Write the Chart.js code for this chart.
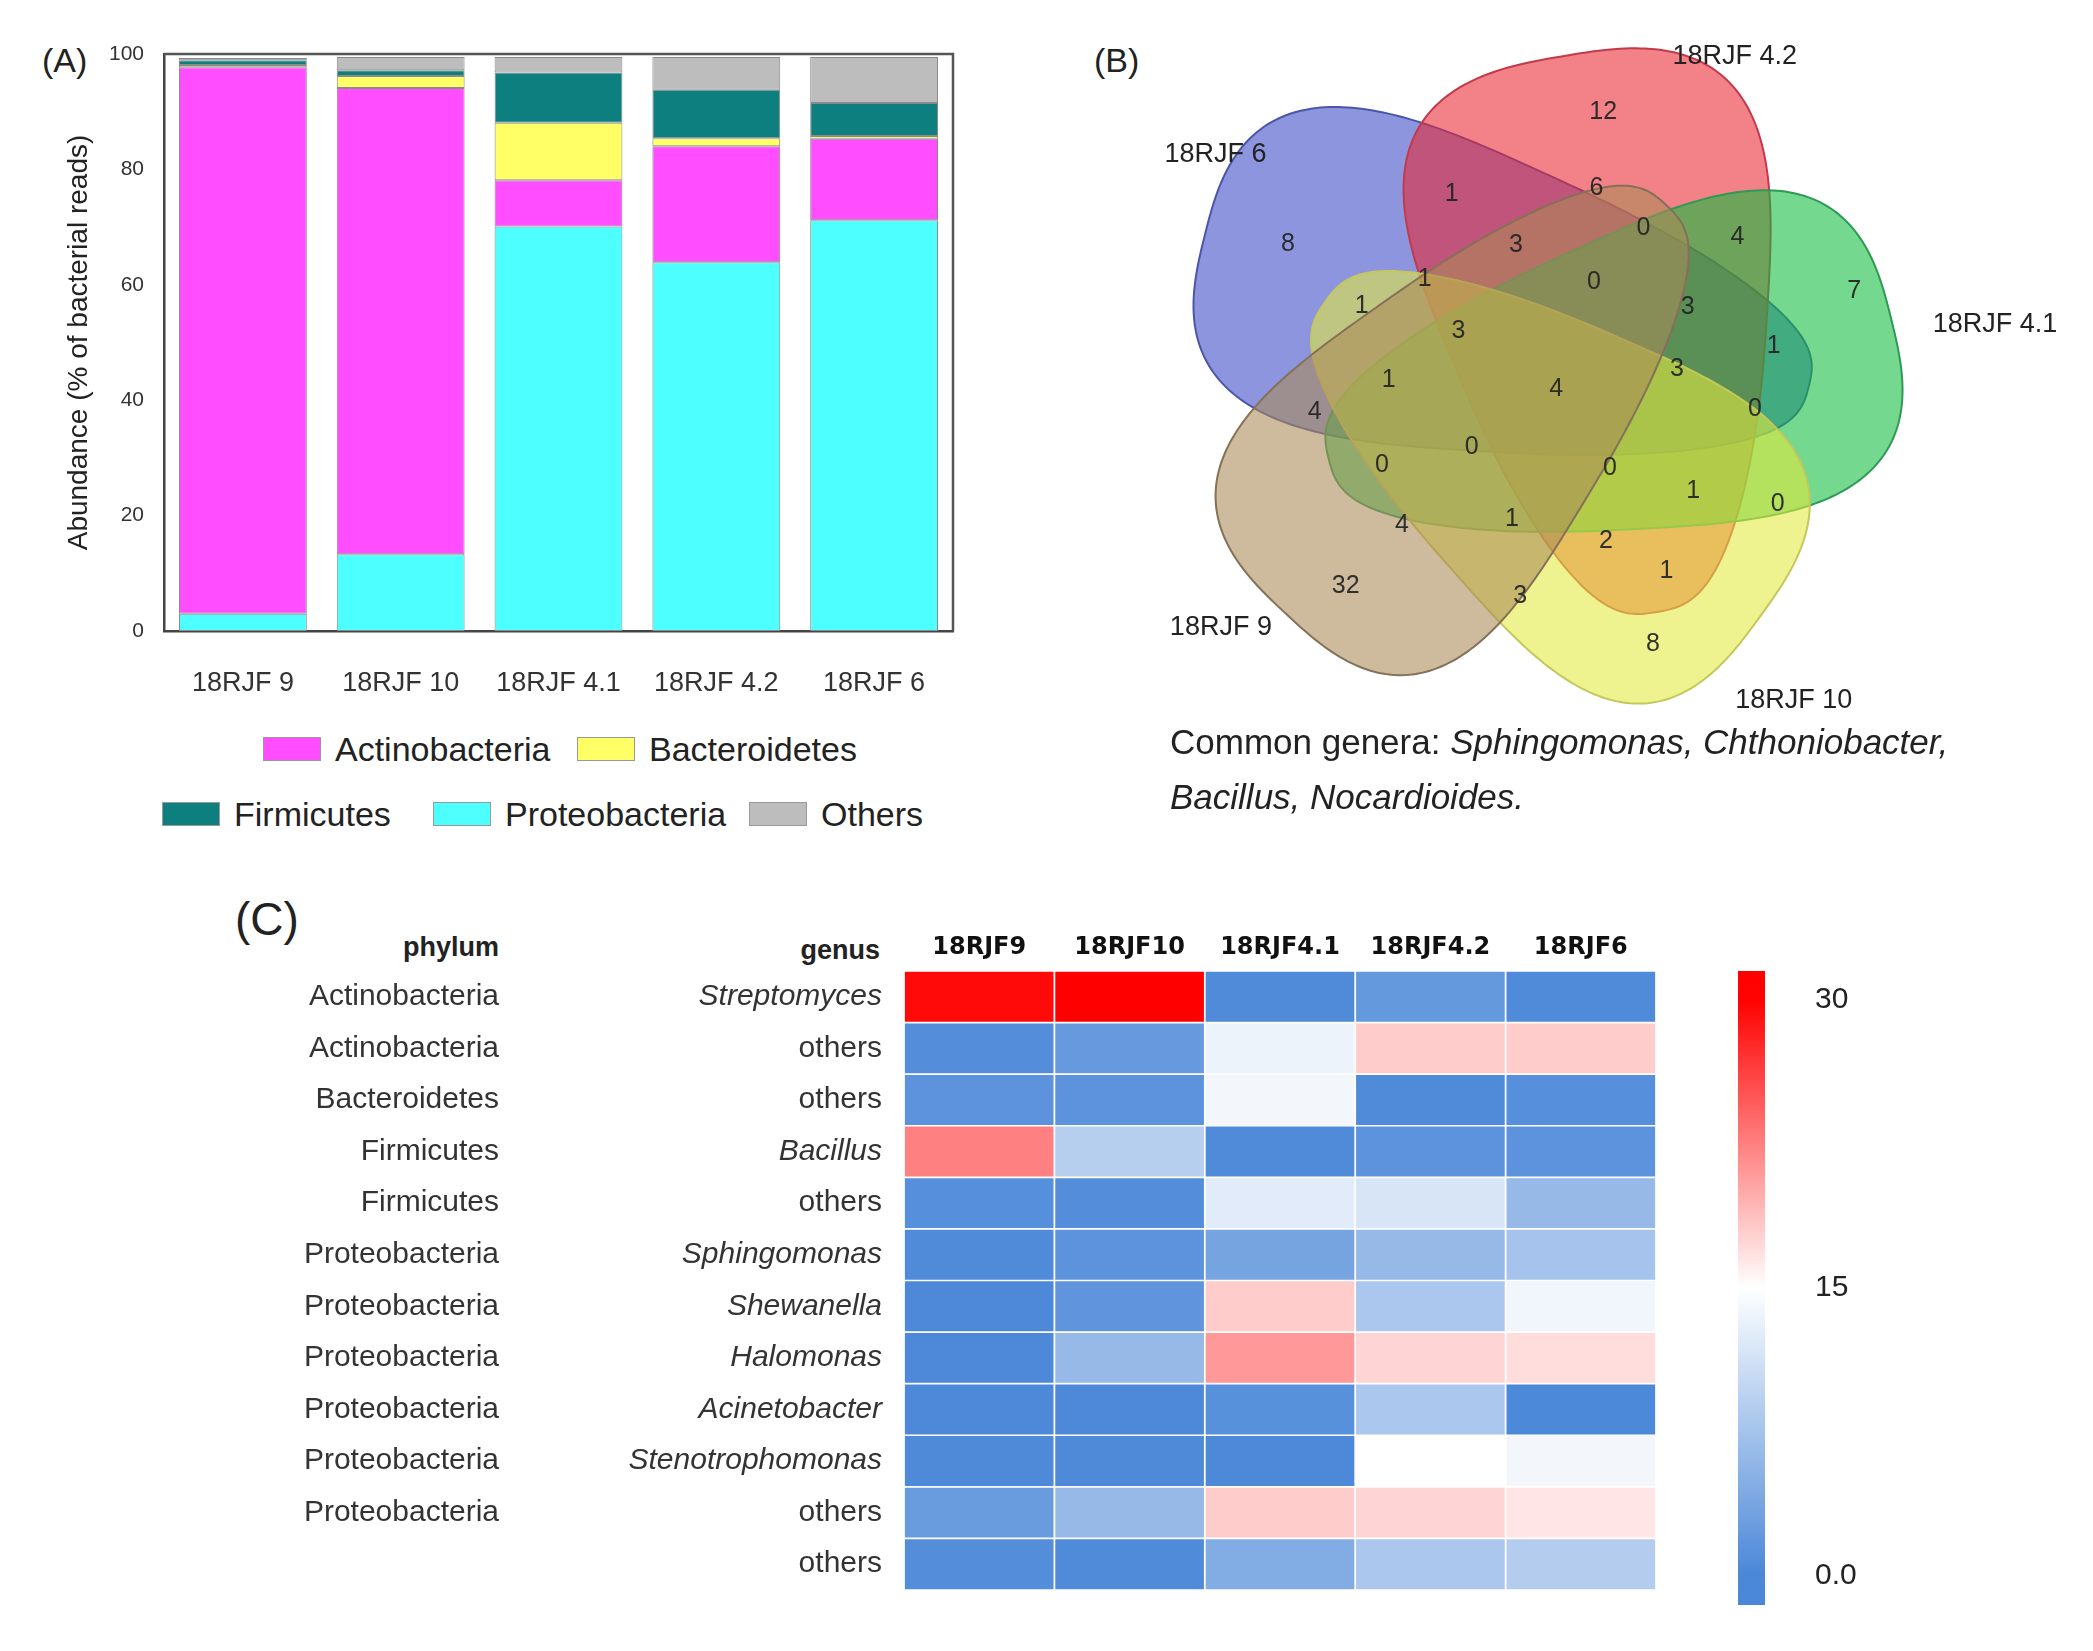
<!DOCTYPE html>
<html>
<head>
<meta charset="utf-8">
<script src="https://cdn.jsdelivr.net/npm/chart.js@4.4.1/dist/chart.umd.min.js"></script>
<style>
  body { margin: 0; background: #fff; font-family: 'Liberation Sans', Arial, sans-serif; color: #222; }
  #pagina { position: relative; width: 2093px; height: 1651px; overflow: hidden; background: #fff; }
  .caja { position: absolute; }
  .etiqueta-panel { position: absolute; font-size: 34px; line-height: 1; color: #222; }
  .item-leyenda { position: absolute; display: flex; align-items: center; font-size: 34px; color: #222; height: 40px; }
  .muestra-color { width: 58px; height: 24px; border: 1px solid #999; box-sizing: border-box; margin-right: 14px; }
  .cabecera { position: absolute; font-weight: bold; font-size: 27px; line-height: 32px; color: #222; text-align: right; }
</style>
</head>
<body>
<div id="pagina">
  <div class="etiqueta-panel" style="left:42px; top:43px;">(A)</div>
  <div class="caja" style="left:0; top:0; width:980px; height:720px;"><canvas id="graficaBarras"></canvas></div>
  <div id="leyendaBarras"></div>

  <div class="etiqueta-panel" style="left:1094px; top:43px;">(B)</div>
  <div class="caja" style="left:1080px; top:20px; width:1013px; height:820px;"><canvas id="graficaVenn"></canvas></div>
  <div class="caja" style="left:1170px; top:714px; font-size:35px; line-height:55px; color:#222;">
    Common genera: <i>Sphingomonas, Chthoniobacter,</i><br><i>Bacillus, Nocardioides.</i>
  </div>

  <div class="etiqueta-panel" style="left:235px; top:896px; font-size:46px;">(C)</div>
  <div class="cabecera" style="right:1594px; top:931px;">phylum</div>
  <div class="cabecera" style="right:1213px; top:934px;">genus</div>
  <div class="caja" style="left:240px; top:880px; width:1450px; height:760px;"><canvas id="graficaCalor"></canvas></div>
  <div class="caja" style="left:1700px; top:903px; width:220px; height:770px;"><canvas id="graficaEscala"></canvas></div>
</div>

<script>
// ---------- Datos (A): abundancia por filo (% de lecturas) ----------
const muestras = ['18RJF 9', '18RJF 10', '18RJF 4.1', '18RJF 4.2', '18RJF 6'];
const proteobacteria = [3.0, 13.3, 70.1, 63.9, 71.2];
const actinobacteria = [94.7, 80.8, 8.0, 20.1, 14.1];
const bacteroidetes = [0.4, 2.1, 10.0, 1.4, 0.5];
const firmicutes = [0.8, 1.0, 8.7, 8.4, 5.7];
const otros = [0.4, 2.3, 2.7, 5.7, 8.0];
const marcasAbundancia = [0, 20, 40, 60, 80, 100];

// ---------- Datos (B): conteos del diagrama de Venn ----------
const conjuntosVenn = ['18RJF 6', '18RJF 4.2', '18RJF 4.1', '18RJF 10', '18RJF 9'];
const conteosVenn = [12, 1, 6, 0, 4, 8, 3, 0, 3, 7, 1, 1, 3, 4, 3, 1, 1, 0, 4, 0, 0, 0, 1, 0, 4, 1, 2, 1, 32, 3, 8];

// ---------- Datos (C): mapa de calor ----------
const muestrasCalor = ['18RJF9', '18RJF10', '18RJF4.1', '18RJF4.2', '18RJF6'];
const generos = ['Streptomyces', 'others', 'others', 'Bacillus', 'others', 'Sphingomonas', 'Shewanella',
  'Halomonas', 'Acinetobacter', 'Stenotrophomonas', 'others', 'others'];
const filos = ['Actinobacteria', 'Actinobacteria', 'Bacteroidetes', 'Firmicutes', 'Firmicutes', 'Proteobacteria',
  'Proteobacteria', 'Proteobacteria', 'Proteobacteria', 'Proteobacteria', 'Proteobacteria', ''];
const calor18RJF9 = [29.5, 0.8, 1.5, 22.5, 1.0, 0.5, 0.3, 0.3, 0.3, 0.4, 2.6, 0.8];
const calor18RJF10 = [30, 2.3, 1.5, 9.0, 0.8, 1.5, 1.8, 6.3, 0.3, 0.4, 6.3, 0.5];
const calor18RJF41 = [0.5, 13.5, 14.0, 0.5, 12.5, 3.6, 18.0, 21.0, 1.2, 0.3, 18.0, 4.6];
const calor18RJF42 = [2.2, 18.0, 0.5, 1.5, 11.7, 6.3, 8.0, 17.5, 8.0, 15.0, 17.5, 8.0];
const calor18RJF6 = [0.5, 18.0, 1.0, 1.5, 6.3, 7.5, 13.8, 17.0, 0.2, 14.0, 16.5, 8.8];
const marcasEscala = [0, 15, 30];

// ---------- Estilos y disposición ----------
const coloresFilo = {
  Actinobacteria: '#ff4dff', Bacteroidetes: '#ffff66', Firmicutes: '#0e7f7f',
  Proteobacteria: '#4dffff', Others: '#bdbdbd'
};

// posiciones de la leyenda (px de página)
const leyendaPos = [
  ['Actinobacteria', 263, 729], ['Bacteroidetes', 577, 729],
  ['Firmicutes', 162, 794], ['Proteobacteria', 433, 794], ['Others', 749, 794]
];

// formas de Venn en unidades del panel: centro, semieje, ángulo, anchos
const formasVenn = [
  { cx: 1123, cy: 232, a: 232, ang: 194, bi: 64, bo: 150 },
  { cx: 1200, cy: 249, a: 210, ang: 260.4, bi: 70, bo: 168 },
  { cx: 1200, cy: 290, a: 216, ang: -13.9, bi: 66, bo: 148 },
  { cx: 1150, cy: 342, a: 200, ang: 36, bi: 64, bo: 152 },
  { cx: 1100, cy: 305, a: 208, ang: 133, bi: 64, bo: 150 }
];
const rellenoVenn = ['rgba(57,72,198,0.58)', 'rgba(233,38,50,0.58)', 'rgba(15,187,60,0.58)',
  'rgba(227,235,62,0.58)', 'rgba(170,137,87,0.58)'];
const bordeVenn = ['#4b56a8', '#c23a4c', '#2f9a55', '#c4c85a', '#857058'];
const etiquetasVennPos = [[906, 115], [1293, 42], [1487, 242], [1337, 522], [910, 468]];
const conteosVennPos = [
  [1195, 84], [1082, 145], [1190, 140], [1225, 170], [1295, 177], [960, 182], [1130, 183], [1188, 210],
  [1258, 229], [1382, 217], [1015, 228], [1062, 208], [1087, 247], [1160, 290], [1250, 275], [1322, 258],
  [1035, 283], [1308, 305], [980, 307], [1097, 333], [1030, 347], [1200, 349], [1262, 366], [1325, 376],
  [1045, 391], [1127, 387], [1197, 403], [1242, 426], [1003, 437], [1133, 444], [1232, 480]
];

// Escala de color azul - blanco - rojo
function colorEscala(v) {
  const azul = [74, 135, 216], blanco = [255, 255, 255], rojo = [255, 0, 0];
  const t = Math.max(0, Math.min(1, v / 30));
  let a, b, f;
  if (t < 0.5) { a = azul; b = blanco; f = t / 0.5; } else { a = blanco; b = rojo; f = (t - 0.5) / 0.5; }
  const c = a.map((x, i) => Math.round(x + (b[i] - x) * f));
  return `rgb(${c[0]},${c[1]},${c[2]})`;
}

// Marco superior y derecho del panel A
const marcoPlugin = {
  id: 'marco',
  afterDatasetsDraw(chart) {
    const { ctx, chartArea } = chart;
    ctx.save();
    ctx.strokeStyle = '#555';
    ctx.lineWidth = 2.5;
    ctx.beginPath();
    ctx.moveTo(chartArea.left, chartArea.top);
    ctx.lineTo(chartArea.right, chartArea.top);
    ctx.lineTo(chartArea.right, chartArea.bottom);
    ctx.stroke();
    ctx.restore();
  }
};

function crearGraficaBarras() {
  const series = [
    ['Proteobacteria', proteobacteria], ['Actinobacteria', actinobacteria], ['Bacteroidetes', bacteroidetes],
    ['Firmicutes', firmicutes], ['Others', otros]
  ];
  const ctx = document.getElementById('graficaBarras').getContext('2d');
  new Chart(ctx, {
    type: 'bar',
    data: {
      labels: muestras,
      datasets: series.map(([nombre, datos]) => ({
        label: nombre,
        data: datos,
        backgroundColor: coloresFilo[nombre],
        borderColor: '#8a8a8a',
        borderWidth: 1,
        borderSkipped: false,
        barPercentage: 0.81,
        categoryPercentage: 1.0
      }))
    },
    options: {
      responsive: true,
      maintainAspectRatio: false,
      animation: false,
      layout: { padding: { left: 58, top: 54, right: 27, bottom: 19 } },
      plugins: { legend: { display: false }, tooltip: { enabled: false } },
      scales: {
        x: {
          stacked: true,
          grid: { display: false },
          border: { color: '#444', width: 2.5 },
          ticks: { color: '#333', font: { size: 27 }, padding: 28 },
          afterFit: s => { s.height = 70; }
        },
        y: {
          stacked: true,
          min: 0,
          max: 100,
          grid: { display: false },
          border: { color: '#444', width: 2.5 },
          afterBuildTicks: s => { s.ticks = marcasAbundancia.map(v => ({ value: v })); },
          ticks: { color: '#333', font: { size: 21 }, padding: 12 },
          title: { display: true, text: 'Abundance (% of bacterial reads)', color: '#222', font: { size: 28 }, padding: 4 },
          afterFit: s => { s.width = 106; }
        }
      }
    },
    plugins: [marcoPlugin]
  });

  // leyenda en HTML (dos filas como en la figura)
  const cont = document.getElementById('leyendaBarras');
  leyendaPos.forEach(([nombre, x, y]) => {
    const item = document.createElement('div');
    item.className = 'item-leyenda';
    item.style.left = x + 'px';
    item.style.top = y + 'px';
    item.innerHTML = `<span class="muestra-color" style="background:${coloresFilo[nombre]}"></span>${nombre}`;
    cont.appendChild(item);
  });
}

function contornoVenn(f) {
  const pts = [];
  const p = 2 / 2.8;
  const t = f.ang * Math.PI / 180;
  for (let k = 0; k < 300; k++) {
    const phi = k / 300 * 2 * Math.PI;
    const c = Math.cos(phi), s = Math.sin(phi);
    const u = Math.sign(c) * Math.pow(Math.abs(c), p);
    const v = Math.sign(s) * Math.pow(Math.abs(s), p);
    const b = f.bi + (f.bo - f.bi) * (1 + u) / 2;
    const lx = f.a * u, ly = v * b;
    pts.push([f.cx + lx * Math.cos(t) - ly * Math.sin(t), f.cy + lx * Math.sin(t) + ly * Math.cos(t)]);
  }
  return pts;
}

const vennPlugin = {
  id: 'venn',
  beforeDatasetsDraw(chart) {
    const { ctx, scales } = chart;
    ctx.save();
    formasVenn.forEach((f, i) => {
      const pts = contornoVenn(f);
      ctx.beginPath();
      pts.forEach(([x, y], k) => {
        const px = scales.x.getPixelForValue(x), py = scales.y.getPixelForValue(y);
        if (k === 0) ctx.moveTo(px, py); else ctx.lineTo(px, py);
      });
      ctx.closePath();
      ctx.fillStyle = rellenoVenn[i];
      ctx.fill();
      ctx.strokeStyle = bordeVenn[i];
      ctx.lineWidth = 2;
      ctx.stroke();
    });
    ctx.restore();
  },
  afterDatasetsDraw(chart) {
    const { ctx, scales } = chart;
    ctx.save();
    ctx.textAlign = 'center';
    ctx.textBaseline = 'middle';
    ctx.font = '25px "Liberation Sans", Arial, sans-serif';
    ctx.fillStyle = 'rgba(35,35,35,0.92)';
    chart.getDatasetMeta(0).data.forEach((pt, i) => {
      ctx.fillText(String(conteosVenn[i]), pt.x, pt.y);
    });
    ctx.font = '27px "Liberation Sans", Arial, sans-serif';
    ctx.fillStyle = '#222';
    conjuntosVenn.forEach((nombre, i) => {
      const [x, y] = etiquetasVennPos[i];
      ctx.fillText(nombre, scales.x.getPixelForValue(x), scales.y.getPixelForValue(y));
    });
    ctx.restore();
  }
};

function crearGraficaVenn() {
  const ctx = document.getElementById('graficaVenn').getContext('2d');
  new Chart(ctx, {
    type: 'scatter',
    data: {
      datasets: [{
        label: 'Venn',
        data: conteosVennPos.map(([x, y]) => ({ x, y })),
        pointRadius: 0
      }]
    },
    options: {
      responsive: true,
      maintainAspectRatio: false,
      animation: false,
      layout: { padding: 0 },
      plugins: { legend: { display: false }, tooltip: { enabled: false } },
      scales: {
        x: { type: 'linear', min: 805, max: 1560, display: false },
        y: { type: 'linear', min: 15, max: 626, reverse: true, display: false }
      }
    },
    plugins: [vennPlugin]
  });
}

function crearMapaCalor() {
  const columnas = [calor18RJF9, calor18RJF10, calor18RJF41, calor18RJF42, calor18RJF6];
  const ctx = document.getElementById('graficaCalor').getContext('2d');
  new Chart(ctx, {
    type: 'bar',
    data: {
      labels: generos,
      datasets: columnas.map((valores, c) => ({
        label: muestrasCalor[c],
        data: valores.map(() => [c, c + 1]),
        backgroundColor: valores.map(colorEscala),
        borderColor: '#ffffff',
        borderWidth: 1.2,
        borderSkipped: false,
        barPercentage: 1,
        categoryPercentage: 1,
        grouped: false
      }))
    },
    options: {
      indexAxis: 'y',
      responsive: true,
      maintainAspectRatio: false,
      animation: false,
      layout: { padding: { left: 0, top: 31, right: 34, bottom: 50 } },
      plugins: { legend: { display: false }, tooltip: { enabled: false } },
      scales: {
        x: { type: 'linear', min: 0, max: 5, display: false },
        x2: {
          type: 'category', position: 'top', labels: muestrasCalor, offset: true,
          grid: { display: false, drawTicks: false }, border: { display: false },
          ticks: { color: '#111', font: { family: '"DejaVu Sans", sans-serif', size: 24, weight: 'bold' }, padding: 9 },
          afterFit: s => { s.height = 60; }
        },
        y: {
          position: 'left',
          grid: { display: false, drawTicks: false }, border: { display: false },
          ticks: {
            color: '#333', padding: 22,
            font: c => ({ size: 30, style: generos[c.index] === 'others' ? 'normal' : 'italic' })
          },
          afterFit: s => { s.width = 399; }
        },
        y2: {
          type: 'category', position: 'left', labels: filos, offset: true, weight: 1,
          grid: { display: false, drawTicks: false }, border: { display: false },
          ticks: { color: '#333', padding: 6, font: { size: 30 } },
          afterFit: s => { s.width = 265; }
        }
      }
    }
  });
}

function crearEscala() {
  const ctx = document.getElementById('graficaEscala').getContext('2d');
  new Chart(ctx, {
    type: 'bar',
    data: {
      labels: [''],
      datasets: [{
        data: [[-1.5, 31.5]],
        barPercentage: 1,
        categoryPercentage: 1,
        borderWidth: 0,
        backgroundColor: c => {
          const { chartArea, scales } = c.chart;
          if (!chartArea) return null;
          const y0 = scales.y.getPixelForValue(-1.5), y1 = scales.y.getPixelForValue(31.5);
          const g = c.chart.ctx.createLinearGradient(0, y0, 0, y1);
          for (let k = 0; k <= 20; k++) {
            const v = -1.5 + 33 * k / 20;
            g.addColorStop(k / 20, colorEscala(v));
          }
          return g;
        }
      }]
    },
    options: {
      responsive: true,
      maintainAspectRatio: false,
      animation: false,
      layout: { padding: { left: 38, top: 0, right: 0, bottom: 0 } },
      plugins: { legend: { display: false }, tooltip: { enabled: false } },
      scales: {
        x: { display: false },
        y: {
          position: 'right', min: -1.5, max: 31.5,
          grid: { display: false, drawTicks: false }, border: { display: false },
          afterBuildTicks: s => { s.ticks = marcasEscala.map(v => ({ value: v })); },
          ticks: { color: '#222', font: { size: 30 }, padding: 50, callback: v => (v === 0 ? '0.0' : String(v)) },
          afterFit: s => { s.width = 155; }
        }
      }
    }
  });
}

document.addEventListener('DOMContentLoaded', () => {
  crearGraficaBarras();
  crearGraficaVenn();
  crearMapaCalor();
  crearEscala();
});
</script>
</body>
</html>
